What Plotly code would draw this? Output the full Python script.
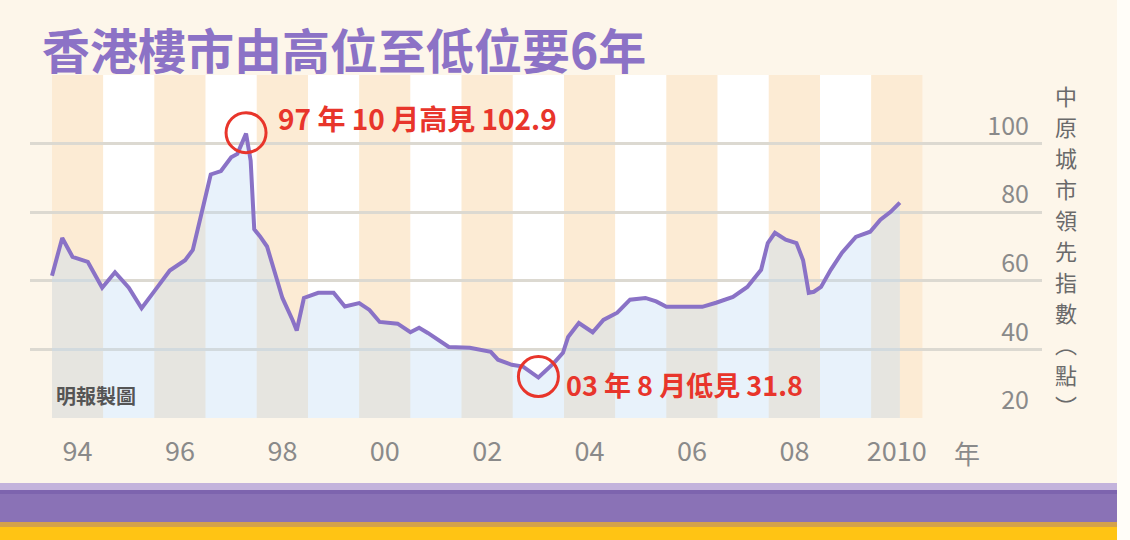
import plotly.graph_objects as go

# ---------------- data ----------------
t = [1994.0, 1994.2, 1994.4, 1994.7, 1994.98, 1995.23, 1995.5, 1995.75,
     1996.0, 1996.3, 1996.6, 1996.75, 1996.95, 1997.1, 1997.3, 1997.5,
     1997.62, 1997.79, 1997.88, 1997.92, 1997.95, 1998.06, 1998.2, 1998.4,
     1998.5, 1998.7, 1998.78, 1998.92, 1999.2, 1999.5, 1999.72, 2000.0,
     2000.2, 2000.4, 2000.75, 2001.0, 2001.17, 2001.34, 2001.62, 2001.75,
     2002.16, 2002.57, 2002.71, 2002.98, 2003.2, 2003.5, 2003.8, 2003.98,
     2004.08, 2004.29, 2004.56, 2004.77, 2005.04, 2005.29, 2005.59, 2005.8,
     2006.0, 2006.42, 2006.7, 2006.97, 2007.3, 2007.58, 2007.85, 2007.98,
     2008.12, 2008.33, 2008.54, 2008.67, 2008.78, 2008.88, 2009.02, 2009.21,
     2009.43, 2009.7, 2009.98, 2010.18, 2010.38, 2010.56]
ccl = [61.5, 72.5, 67.0, 65.5, 58.0, 62.5, 58.0, 52.0,
       57.0, 63.0, 66.0, 69.0, 81.5, 91.0, 92.0, 96.0,
       97.0, 102.9, 95.0, 86.0, 75.0, 73.0, 70.0, 60.0,
       55.0, 48.5, 45.5, 55.0, 56.5, 56.5, 52.5, 53.5,
       51.5, 48.0, 47.5, 45.0, 46.3, 44.8, 42.0, 40.7,
       40.5, 39.3, 37.0, 35.5, 35.0, 31.8, 36.0, 39.0,
       43.6, 47.7, 45.0, 48.6, 50.7, 54.5, 55.0, 54.0,
       52.4, 52.4, 52.4, 53.6, 55.3, 58.2, 63.2, 71.0,
       74.0, 72.0, 71.0, 66.0, 56.5, 56.8, 58.2, 63.2,
       68.2, 72.8, 74.3, 77.8, 80.1, 82.8]

band_years = list(range(1994, 2011))
label_years = [1994, 1996, 1998, 2000, 2002, 2004, 2006, 2008, 2010]
label_text = ["94", "96", "98", "00", "02", "04", "06", "08", "2010"]
y_ticks = [20, 40, 60, 80, 100, 120]
y_ticktext = ["20", "40", "60", "80", "100", ""]

peak_t, peak_v = 1997.79, 102.9
low_t, low_v = 2003.5, 31.8

title_text = "香港樓市由高位至低位要6年"
peak_text = "97 年 10 月高見 102.9"
low_text = "03 年 8 月低見 31.8"
y_title_chars = ["中", "原", "城", "市", "領", "先", "指", "數", "︵", "點", "︶"]
credit_text = "明報製圖"
unit_text = "年"

# ---------------- styling / layout ----------------
W, H = 1130, 540
Ls, Rs, Ts, Bs = 30, 1042, 75, 418   # plot area in pixels
X0S, YEARPX = 52, 51.2               # x pixel of 1994.0, px per year
FONT = "Noto Sans CJK TC"
CREAM = "#FDF6EA"
ORANGE = "#FCEBD4"
PURPLE = "#8A72C6"
RED = "#E8352B"


def px_x(x):
    return (x - Ls) / (Rs - Ls)


def px_y(y):
    return (Bs - y) / (Bs - Ts)


fig = go.Figure()

fig.add_trace(go.Scatter(
    x=t, y=ccl, mode="lines",
    line=dict(color=PURPLE, width=4),
    fill="tozeroy", fillcolor="rgba(195,222,245,0.38)",
    hoverinfo="skip", showlegend=False,
))

shapes = []
for yr in band_years:
    shapes.append(dict(
        type="rect", xref="x", yref="y", x0=yr, x1=yr + 1, y0=20, y1=120,
        fillcolor=ORANGE if yr % 2 == 0 else "#FFFFFF",
        line=dict(width=0), layer="below",
    ))

# highlight circles
for (ct, cv) in [(peak_t, peak_v), (low_t, low_v)]:
    shapes.append(dict(
        type="circle", xref="x", yref="y", xsizemode="pixel", ysizemode="pixel",
        xanchor=ct, yanchor=cv, x0=-20, x1=20, y0=-19, y1=21,
        line=dict(color=RED, width=3), fillcolor="rgba(0,0,0,0)", layer="above",
    ))


# decorative page elements
def rect(x0, x1, y0, y1, color):
    return dict(type="rect", xref="paper", yref="paper",
                x0=px_x(x0), x1=px_x(x1), y0=px_y(y1), y1=px_y(y0),
                fillcolor=color, line=dict(width=0), layer="above")


shapes += [
    rect(1117, 1131, -1, 541, "#FFFDF8"),
    rect(-1, 1117, 483, 490, "#C3B3DC"),
    rect(-1, 1117, 490, 522, "#8A72B6"),
    rect(-1, 1117, 490, 494, "#7D64AE"),
    rect(-1, 1117, 522, 527, "#D4A24A"),
    rect(-1, 1117, 527, 541, "#FFC414"),
]

annotations = [
    dict(text="<b>" + title_text + "</b>", xref="paper", yref="paper",
         x=px_x(40), y=px_y(48), xanchor="left", yanchor="middle",
         showarrow=False, font=dict(family=FONT, size=48, color="#8C72C6")),
    dict(text="<b>" + peak_text + "</b>", xref="x", yref="y",
         x=peak_t, y=peak_v, xanchor="left", yanchor="middle",
         xshift=30, yshift=16, showarrow=False,
         font=dict(family=FONT, size=28, color=RED)),
    dict(text="<b>" + low_text + "</b>", xref="x", yref="y",
         x=low_t, y=low_v, xanchor="left", yanchor="middle",
         xshift=26, yshift=-7, showarrow=False,
         font=dict(family=FONT, size=27, color=RED)),
    dict(text="<b>" + credit_text + "</b>", xref="paper", yref="paper",
         x=px_x(54), y=px_y(395), xanchor="left", yanchor="middle",
         showarrow=False, font=dict(family=FONT, size=20, color="#555555")),
    dict(text=unit_text, xref="paper", yref="paper",
         x=px_x(967), y=px_y(453), xanchor="center", yanchor="middle",
         showarrow=False, font=dict(family=FONT, size=26, color="#8a8a8a")),
]

# vertical axis title, one character per line position
for i, ch in enumerate(y_title_chars):
    annotations.append(dict(
        text=ch, xref="paper", yref="paper",
        x=px_x(1066), y=px_y(95 + 31 * i), xanchor="center", yanchor="middle",
        showarrow=False, font=dict(family=FONT, size=22, color="#6a6a6a"),
    ))

fig.update_layout(
    width=W, height=H,
    margin=dict(l=Ls, r=W - Rs, t=Ts, b=H - Bs, pad=0),
    paper_bgcolor=CREAM, plot_bgcolor=CREAM,
    shapes=shapes, annotations=annotations,
    showlegend=False,
    xaxis=dict(
        range=[1994 + (Ls - X0S) / YEARPX, 1994 + (Rs - X0S) / YEARPX],
        tickvals=[y + 0.5 for y in label_years], ticktext=label_text,
        tickfont=dict(family=FONT, size=27, color="#8a8a8a"),
        showgrid=False, zeroline=False, showline=False, ticks="",
        ticklabelstandoff=15, fixedrange=True,
    ),
    yaxis=dict(
        range=[20, 120], side="right",
        tickvals=y_ticks, ticktext=y_ticktext,
        ticklabelposition="inside top",
        tickfont=dict(family=FONT, size=25, color="#8a8a8a"),
        showgrid=True, gridcolor="#DCD9D1", gridwidth=3,
        zeroline=False, showline=False, ticks="",
        ticklabelstandoff=10, fixedrange=True,
    ),
)

fig.write_html(
    "out.html",
    config={"displayModeBar": False, "staticPlot": True},
    post_script="document.body.style.margin='0px';document.body.style.overflow='hidden';",
)
